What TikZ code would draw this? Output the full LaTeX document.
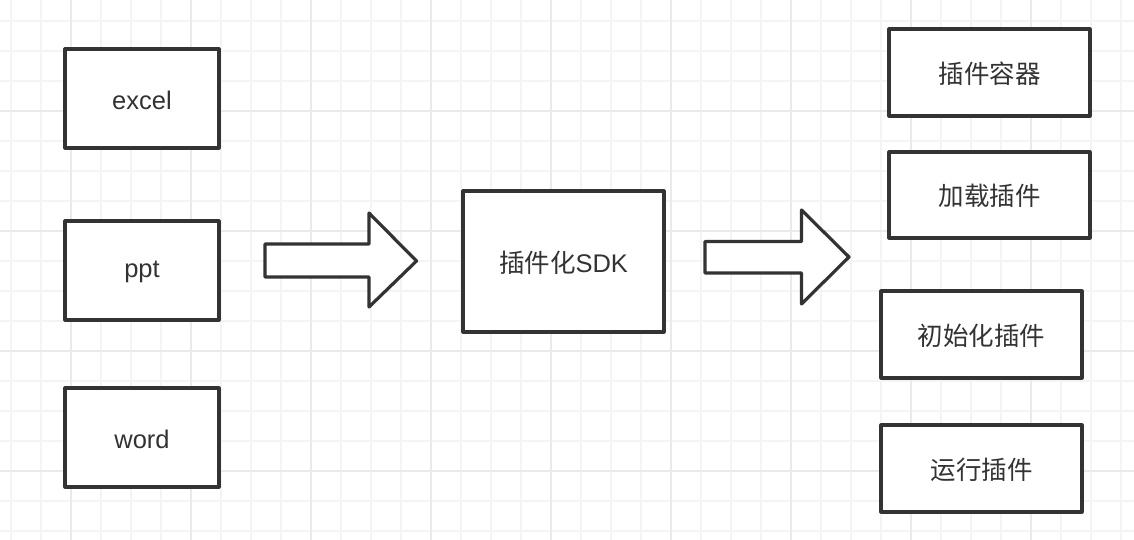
\documentclass[tikz,border=0pt]{standalone}
\usepackage{fontspec}
\setmainfont{Liberation Sans}
\newfontfamily\cjk{Noto Sans CJK SC}
\definecolor{ink}{HTML}{333333}
\definecolor{gridminor}{HTML}{F4F4F4}
\definecolor{gridmajor}{HTML}{EAEAEA}
\begin{document}
\begin{tikzpicture}[x=1pt,y=-1pt,
  box/.style={draw=ink,line width=3.2pt,line join=round,fill=white},
  lbl/.style={text=ink,font=\fontsize{25.5}{30}\selectfont},
  bigarrow/.style={draw=ink,line width=3.2pt,line join=round,fill=white}]
\useasboundingbox (0,0) rectangle (1134,540);
\fill[white] (0,0) rectangle (1134,540);
% grid
\foreach \i in {0,...,37} {
  \pgfmathsetmacro\xx{10.7+30*\i}
  \draw[gridminor,line width=2pt] (\xx,0) -- (\xx,540);
}
\foreach \i in {0,...,17} {
  \pgfmathsetmacro\yy{20.7+30*\i}
  \draw[gridminor,line width=2pt] (0,\yy) -- (1134,\yy);
}
\foreach \i in {0,...,9} {
  \pgfmathsetmacro\xx{70.7+120*\i}
  \draw[gridmajor,line width=2pt] (\xx,0) -- (\xx,540);
}
\foreach \i in {0,...,4} {
  \pgfmathsetmacro\yy{110.7+120*\i}
  \draw[gridmajor,line width=2pt] (0,\yy) -- (1134,\yy);
}
% boxes
\draw[box] (65,49) rectangle (219,148);
\node[lbl] (excel) at (142,100) {excel};
\draw[box] (65,221) rectangle (219,320);
\node[lbl] (ppt) at (142,272) {ppt};
\draw[box] (65,388) rectangle (219,487);
\node[lbl] (word) at (142,439) {word};
\draw[box] (463,191) rectangle (664,332);
\node[lbl] (sdk) at (563.5,263) {{\cjk 插件化}SDK};
\draw[box] (889,29) rectangle (1090,116);
\node[lbl] (c1) at (989.5,74) {\cjk 插件容器};
\draw[box] (889,152) rectangle (1090,238);
\node[lbl] (c2) at (989.5,196) {\cjk 加载插件};
\draw[box] (881,291) rectangle (1082,378);
\node[lbl] (c3) at (981.5,336) {\cjk 初始化插件};
\draw[box] (881,425) rectangle (1082,512);
\node[lbl] (c4) at (981.5,470) {\cjk 运行插件};
% block arrows
\draw[bigarrow] (265,244) -- (369,244) -- (369,213) -- (416.5,261) -- (369,307) -- (369,277) -- (265,277) -- cycle;
\draw[bigarrow] (705,241.5) -- (801.5,241.5) -- (801.5,210) -- (849,257) -- (801.5,304) -- (801.5,273) -- (705,273) -- cycle;
\end{tikzpicture}
\end{document}
